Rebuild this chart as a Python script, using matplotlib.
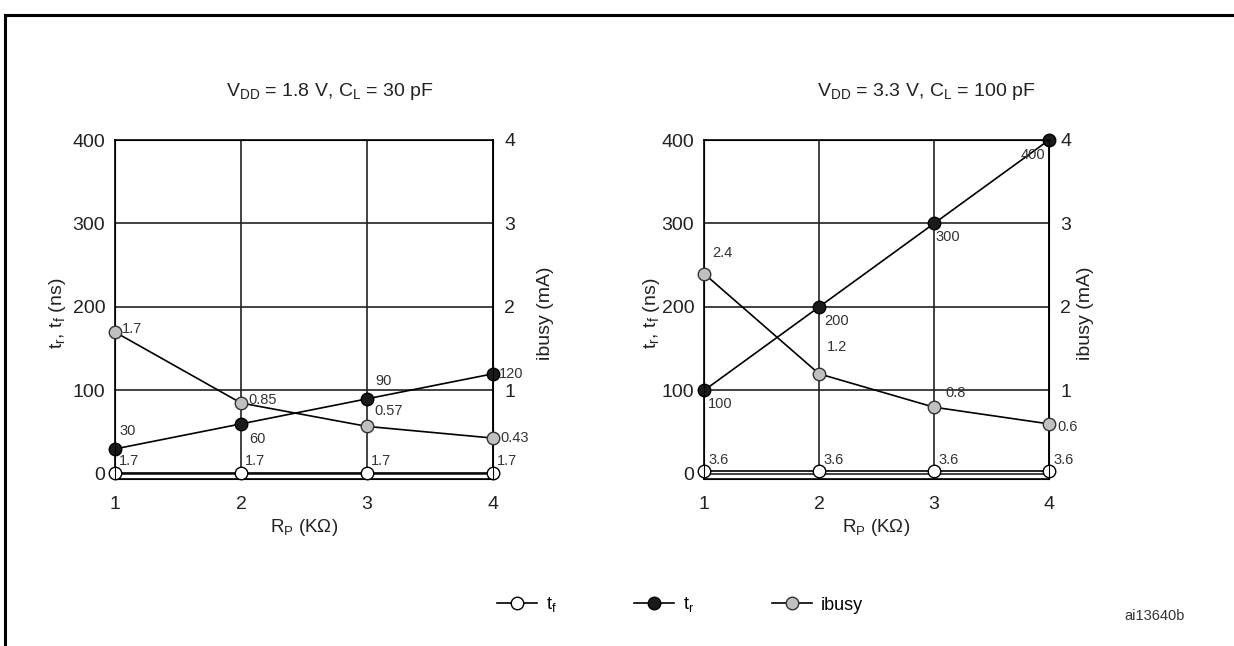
import matplotlib
matplotlib.use("Agg")
import matplotlib.pyplot as plt
from matplotlib.lines import Line2D

plt.rcParams["font.family"] = ["Liberation Sans", "DejaVu Sans"]
plt.rcParams["mathtext.fontset"] = "custom"
plt.rcParams["mathtext.rm"] = "Liberation Sans"

rp = [1, 2, 3, 4]

# VDD = 1.8 V, CL = 30 pF
tf_18 = [1.7, 1.7, 1.7, 1.7]
tr_18 = [30, 60, 90, 120]
ibusy_18 = [1.7, 0.85, 0.57, 0.43]

# VDD = 3.3 V, CL = 100 pF
tf_33 = [3.6, 3.6, 3.6, 3.6]
tr_33 = [100, 200, 300, 400]
ibusy_33 = [2.4, 1.2, 0.8, 0.6]

titles = [r"V$_\mathregular{DD}$ = 1.8 V, C$_\mathregular{L}$ = 30 pF",
          r"V$_\mathregular{DD}$ = 3.3 V, C$_\mathregular{L}$ = 100 pF"]

# label offsets in points (dx, dy, ha, va)
off_18 = {
    "tf": [(3, 3, "left", "bottom")] * 4,
    "tr": [(3, 8, "left", "bottom"), (6, -6, "left", "top"),
           (6, 8, "left", "bottom"), (4, 0, "left", "center")],
    "ib": [(5, 2, "left", "center"), (5, 2, "left", "center"),
           (5, 6, "left", "bottom"), (5, 0, "left", "center")],
}
off_33 = {
    "tf": [(3, 3, "left", "bottom")] * 4,
    "tr": [(3, -5, "left", "top"), (4, -5, "left", "top"),
           (1, -5, "left", "top"), (-3, -6, "right", "top")],
    "ib": [(6, 10, "left", "bottom"), (6, 14, "left", "bottom"),
           (8, 5, "left", "bottom"), (6, -2, "left", "center")],
}

W, H = 1234, 646
fig = plt.figure(figsize=(W / 100, H / 100), dpi=100)

# outer frame (left and top edges)
fig.add_artist(Line2D([5 / W, 5 / W], [0, 1 - 15 / H], color="black", lw=2.2,
                      transform=fig.transFigure))
fig.add_artist(Line2D([5 / W, 1], [1 - 15 / H, 1 - 15 / H], color="black", lw=2.2,
                      transform=fig.transFigure))

panels = [
    (115, 493, tf_18, tr_18, ibusy_18, off_18, 0, 57, 545),
    (704, 1049, tf_33, tr_33, ibusy_33, off_33, 1, 652, 1085),
]
top_px, bot_px = 140, 479
ymin = -6

for left, right, tf, tr, ib, off, k, ylab_x, y2lab_x in panels:
    ax = fig.add_axes([left / W, 1 - bot_px / H, (right - left) / W, (bot_px - top_px) / H])
    ax.set_xlim(1, 4)
    ax.set_ylim(ymin, 400)
    ax.set_xticks(rp)
    ax.set_yticks([0, 100, 200, 300, 400])
    ax.tick_params(length=0, labelsize=14, pad=7, labelcolor="#222222")
    ax.tick_params(axis="x", pad=12)
    for sp in ax.spines.values():
        sp.set_linewidth(1.2)
    ax.grid(True, color="#222222", lw=1.2)
    ax.set_axisbelow(True)

    ax2 = ax.twinx()
    ax2.set_ylim(ymin / 100, 4)
    ax2.set_yticks([1, 2, 3, 4])
    ax2.tick_params(length=0, labelsize=14, pad=8, labelcolor="#222222")

    ax.plot(rp, tf, color="black", lw=1.2, marker="o", ms=9,
            mfc="white", mec="black", mew=1.0, zorder=3, clip_on=False)
    ax.plot(rp, tr, color="black", lw=1.2, marker="o", ms=9,
            mfc="#1a1a1a", mec="black", mew=1.0, zorder=3, clip_on=False)
    ax2.plot(rp, ib, color="black", lw=1.2, marker="o", ms=9,
             mfc="#c0c0c0", mec="#333333", mew=1.0, zorder=3, clip_on=False)

    for x, v, (dx, dy, ha, va) in zip(rp, tf, off["tf"]):
        ax.annotate(f"{v:g}", (x, v), xytext=(dx, dy), textcoords="offset points",
                    ha=ha, va=va, fontsize=10.5, color="#333333")
    for x, v, (dx, dy, ha, va) in zip(rp, tr, off["tr"]):
        ax.annotate(f"{v:g}", (x, v), xytext=(dx, dy), textcoords="offset points",
                    ha=ha, va=va, fontsize=10.5, color="#333333")
    for x, v, (dx, dy, ha, va) in zip(rp, ib, off["ib"]):
        ax2.annotate(f"{v:g}", (x, v), xytext=(dx, dy), textcoords="offset points",
                     ha=ha, va=va, fontsize=10.5, color="#333333")

    cx = (left + right) / 2
    fig.text((cx + (26 if k == 0 else 50)) / W, 1 - 91 / H, titles[k],
             ha="center", va="center", fontsize=14, color="#222222")
    fig.text(cx / W, 1 - 528 / H, r"R$_\mathregular{P}$ (K$\Omega$)",
             ha="center", va="center", fontsize=13.5, color="#222222")
    fig.text(ylab_x / W, 1 - 313 / H, r"t$_\mathregular{r}$, t$_\mathregular{f}$ (ns)",
             ha="center", va="center", rotation=90, fontsize=14, color="#222222")
    fig.text(y2lab_x / W, 1 - 313 / H, "ibusy (mA)",
             ha="center", va="center", rotation=90, fontsize=14, color="#222222")

handles = [
    Line2D([], [], color="black", lw=1.2, marker="o", ms=9, mfc="white", mec="black"),
    Line2D([], [], color="black", lw=1.2, marker="o", ms=9, mfc="#1a1a1a", mec="black"),
    Line2D([], [], color="black", lw=1.2, marker="o", ms=9, mfc="#c0c0c0", mec="#333333"),
]
fig.legend(handles, [r"t$_\mathregular{f}$", r"t$_\mathregular{r}$", "ibusy"],
           loc="center", bbox_to_anchor=(680 / W, 1 - 605 / H), ncol=3,
           frameon=False, fontsize=13, handlelength=2.2, handletextpad=0.5,
           columnspacing=4.3)

fig.text(1155 / W, 1 - 616 / H, "ai13640b", ha="center", va="center",
         fontsize=10.5, color="#333333")

fig.savefig("out.png", dpi=100)
